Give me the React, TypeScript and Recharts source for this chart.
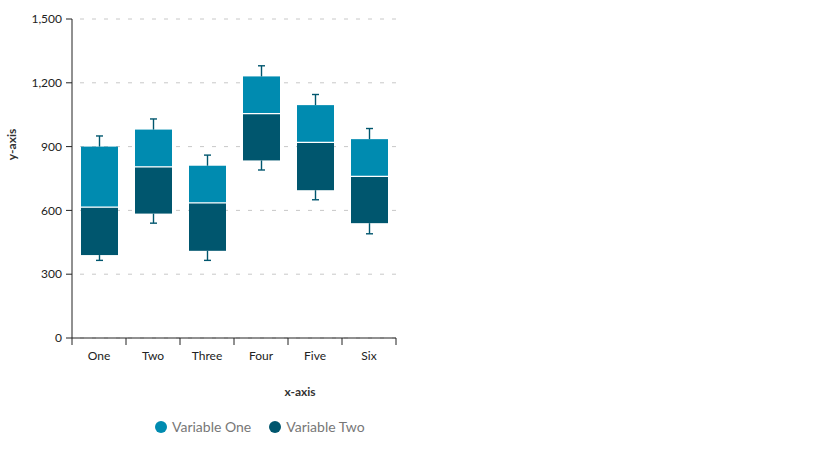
import { BarChart, Bar, XAxis, YAxis, CartesianGrid, Legend } from 'recharts';

const categories = ['One', 'Two', 'Three', 'Four', 'Five', 'Six'];
const minValues = [365, 540, 365, 790, 650, 490];
const q1Values = [390, 585, 410, 835, 695, 540];
const medianValues = [615, 805, 635, 1055, 920, 760];
const q3Values = [900, 980, 810, 1230, 1095, 935];
const maxValues = [950, 1030, 860, 1280, 1145, 985];
const yTicks = [0, 300, 600, 900, 1200, 1500];

const LIGHT = '#008bb0';
const DARK = '#00566e';
const FONT = 'Lato, "Open Sans", sans-serif';

const data = categories.map((name, i) => ({
  name,
  base: q1Values[i],
  lower: medianValues[i] - q1Values[i],
  upper: q3Values[i] - medianValues[i],
  min: minValues[i],
  q1: q1Values[i],
  median: medianValues[i],
  q3: q3Values[i],
  max: maxValues[i],
}));

// lower box (Variable Two) + whisker down to the minimum
function LowerBox(props: any) {
  const { x, y, width, height, payload } = props;
  const pxPerUnit = height / (payload.median - payload.q1);
  const len = (payload.q1 - payload.min) * pxPerUnit;
  const cx = x + width / 2;
  const bottom = y + height;
  return (
    <g>
      <rect x={x} y={y} width={width} height={height} fill={DARK} />
      <line x1={cx} x2={cx} y1={bottom} y2={bottom + len} stroke={DARK} strokeWidth={1.4} />
      <line x1={cx - 3.5} x2={cx + 3.5} y1={bottom + len} y2={bottom + len} stroke={DARK} strokeWidth={1.4} />
    </g>
  );
}

// upper box (Variable One) + whisker up to the maximum
function UpperBox(props: any) {
  const { x, y, width, height, payload } = props;
  const pxPerUnit = height / (payload.q3 - payload.median);
  const len = (payload.max - payload.q3) * pxPerUnit;
  const cx = x + width / 2;
  return (
    <g>
      <rect x={x} y={y} width={width} height={height} fill={LIGHT} />
      <line x1={x} x2={x + width} y1={y + height} y2={y + height} stroke="#fff" strokeWidth={1.2} />
      <line x1={cx} x2={cx} y1={y} y2={y - len} stroke={DARK} strokeWidth={1.4} />
      <line x1={cx - 3.5} x2={cx + 3.5} y1={y - len} y2={y - len} stroke={DARK} strokeWidth={1.4} />
    </g>
  );
}

// category label at the band centre, tick marks on the band edges
function CategoryTick(props: any) {
  const { x, y, payload, index } = props;
  const half = payload && typeof payload.offset === 'number' && payload.offset > 0 ? payload.offset : 27;
  const last = index === categories.length - 1;
  return (
    <g>
      <line x1={x - half} x2={x - half} y1={y} y2={y + 7} stroke="#222" />
      {last && <line x1={x + half} x2={x + half} y1={y} y2={y + 7} stroke="#222" />}
      <text x={x} y={y + 22} textAnchor="middle" fill="#222" fontSize={12} fontFamily={FONT}>
        {payload.value}
      </text>
    </g>
  );
}

function YLabel({ viewBox }: any) {
  const cx = viewBox.x + 11;
  const cy = viewBox.y + viewBox.height / 2 - 34;
  return (
    <text x={cx} y={cy} transform={`rotate(-90 ${cx} ${cy})`} textAnchor="middle" dominantBaseline="central"
      fill="#333" fontSize={12} fontWeight={700} fontFamily={FONT}>
      y-axis
    </text>
  );
}

function XLabel({ viewBox }: any) {
  const cx = viewBox.x + viewBox.width / 2 + 66;
  const cy = viewBox.y + 53;
  return (
    <text x={cx} y={cy} textAnchor="middle" dominantBaseline="central"
      fill="#333" fontSize={12} fontWeight={700} fontFamily={FONT}>
      x-axis
    </text>
  );
}

function LegendContent({ payload }: any) {
  const items = (payload || [])
    .filter((it: any) => it.dataKey !== 'base' && it.type !== 'none')
    .sort((a: any, b: any) => String(a.value).localeCompare(String(b.value)));
  return (
    <div style={{ display: 'flex', alignItems: 'center', height: 20, paddingLeft: 155, fontFamily: FONT, whiteSpace: 'nowrap' }}>
      {items.map((it: any) => (
        <span key={it.value} style={{ display: 'flex', alignItems: 'center', marginRight: 18, flexShrink: 0 }}>
          <span style={{ width: 12, height: 12, borderRadius: '50%', backgroundColor: it.color, marginRight: 5 }} />
          <span style={{ fontSize: 14, color: '#777', lineHeight: '20px' }}>{it.value}</span>
        </span>
      ))}
    </div>
  );
}

export default function App() {
  return (
    <div style={{ position: 'absolute', left: 0, top: 0, width: 819, height: 460, background: '#fff' }}>
      <BarChart width={819} height={460} data={data} margin={{ top: 19, right: 423, left: 0, bottom: 23 }} barSize={37}>
        <CartesianGrid horizontal vertical={false} stroke="#c8c8c8" strokeDasharray="0 8 4 0" />
        <XAxis
          dataKey="name"
          height={79}
          tickSize={0}
          tickMargin={0}
          tickLine={false}
          axisLine={{ stroke: '#222' }}
          tick={<CategoryTick />}
          interval={0}
          label={<XLabel />}
        />
        <YAxis
          width={72}
          domain={[0, 1500]}
          ticks={yTicks}
          tickSize={6}
          tickMargin={4}
          axisLine={{ stroke: '#222' }}
          tickLine={{ stroke: '#222' }}
          tick={{ fill: '#222', fontSize: 12, fontFamily: FONT }}
          tickFormatter={(v: number) => v.toLocaleString('en-US')}
          label={<YLabel />}
        />
        <Legend verticalAlign="bottom" align="left" content={<LegendContent />} />
        <Bar dataKey="base" stackId="box" fill="transparent" legendType="none" isAnimationActive={false} />
        <Bar dataKey="lower" name="Variable Two" stackId="box" fill={DARK} shape={<LowerBox />} isAnimationActive={false} />
        <Bar dataKey="upper" name="Variable One" stackId="box" fill={LIGHT} shape={<UpperBox />} isAnimationActive={false} />
      </BarChart>
    </div>
  );
}
